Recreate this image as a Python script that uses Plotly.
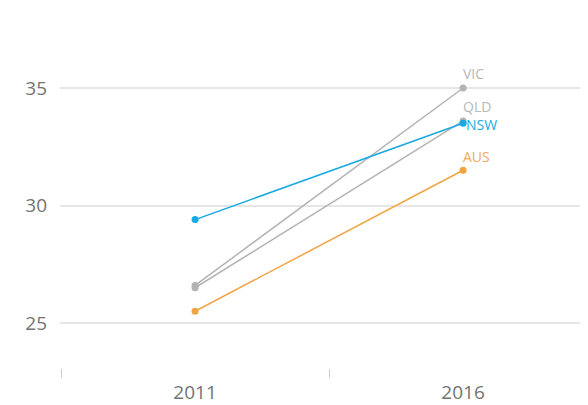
import plotly.graph_objects as go

years = ["2011", "2016"]
series_names = ["VIC", "QLD", "AUS", "NSW"]
vic = [26.6, 35.0]
qld = [26.5, 33.6]
aus = [25.5, 31.5]
nsw = [29.4, 33.5]
y_ticks = [25, 30, 35]

values = {"VIC": vic, "QLD": qld, "AUS": aus, "NSW": nsw}
colors = {"VIC": "#b3b3b3", "QLD": "#b3b3b3", "AUS": "#f2a444", "NSW": "#18a9e3"}
label_colors = {"VIC": "#b8b8b8", "QLD": "#b8b8b8", "AUS": "#f2a95a", "NSW": "#23ade6"}

FONT = "Open Sans"

fig = go.Figure()
for name in series_names:
    fig.add_trace(go.Scatter(
        x=years, y=values[name], mode="lines+markers", name=name,
        line=dict(color=colors[name], width=1.5),
        marker=dict(color=colors[name], size=7),
        showlegend=False, hoverinfo="skip",
    ))

last = len(years) - 1
for name in series_names:
    if name == "NSW":
        fig.add_annotation(x=last, y=values[name][last], text=name, showarrow=False,
                           xanchor="left", yanchor="middle", xshift=1, yshift=-1,
                           font=dict(family=FONT, size=14, color=label_colors[name]))
    else:
        fig.add_annotation(x=last, y=values[name][last], text=name, showarrow=False,
                           xanchor="left", yanchor="middle", xshift=-2, yshift=14,
                           font=dict(family=FONT, size=14, color=label_colors[name]))

fig.update_layout(
    width=580, height=397,
    margin=dict(l=52, r=0, t=0, b=37, autoexpand=False),
    paper_bgcolor="white", plot_bgcolor="white",
    font=dict(family=FONT),
)
fig.update_xaxes(
    type="category", range=[-0.504, 1.466],
    tickson="boundaries", ticks="outside", ticklen=9, tickwidth=1, tickcolor="#cccccc",
    showgrid=False, showline=False, zeroline=False,
    tickfont=dict(family=FONT, size=19, color="#737373"),
    ticklabelstandoff=11,
)
fig.update_yaxes(
    range=[23.085, 38.404], tickvals=y_ticks,
    showgrid=True, gridcolor="#e6e6e6", gridwidth=1.5,
    zeroline=False, showline=False, ticks="",
    tickfont=dict(family=FONT, size=19, color="#737373"),
    ticklabelstandoff=12,
)

fig.write_html("out.html")
